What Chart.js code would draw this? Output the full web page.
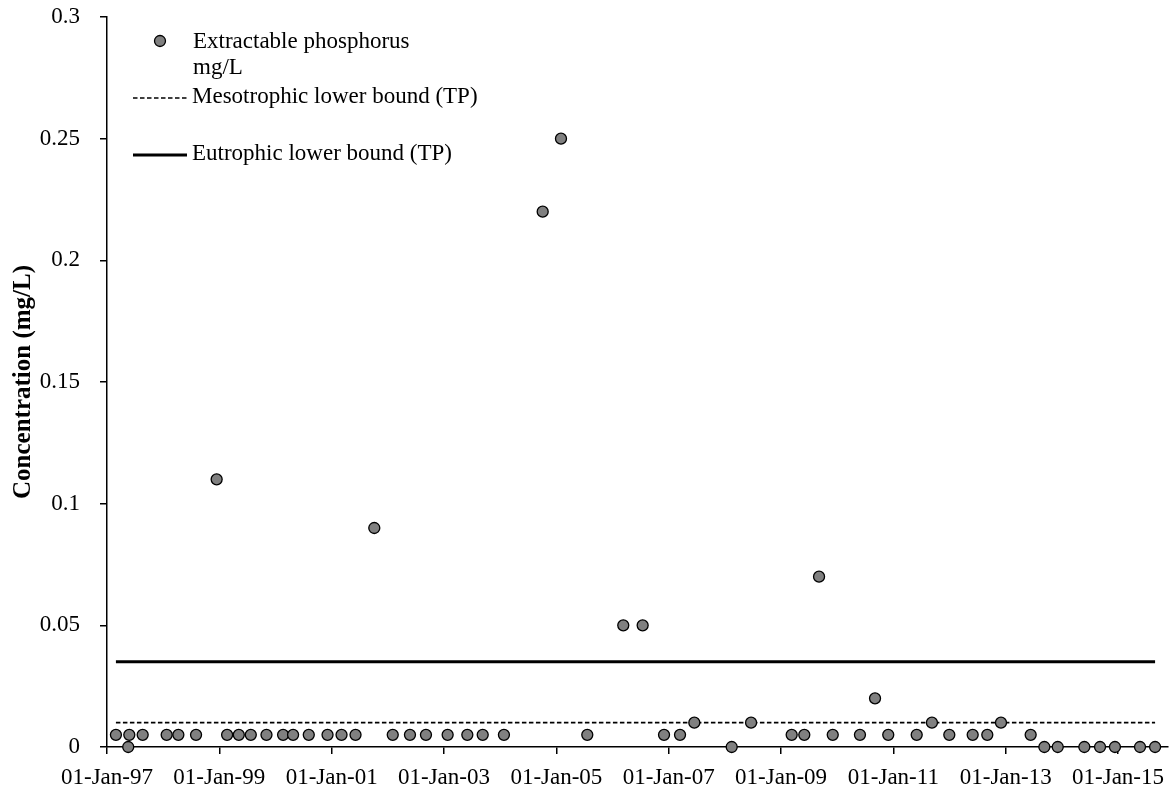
<!DOCTYPE html>
<html>
<head>
<meta charset="utf-8">
<title>Extractable phosphorus concentration</title>
<script src="https://cdn.jsdelivr.net/npm/chart.js@4.4.1/dist/chart.umd.min.js"></script>
<style>
  html, body { margin: 0; padding: 0; background: #fff; }
  #wrap { width: 1169px; height: 791px; }
</style>
</head>
<body>
<div id="wrap"><canvas id="chart" width="1169" height="791"></canvas></div>
<script>
// Sampling dates and measured extractable phosphorus (mg/L)
const sampleDates = [
  '1997-02-28', '1997-05-19', '1997-05-26', '1997-08-21', '1998-01-24', '1998-04-10',
  '1998-08-03', '1998-12-15', '1999-02-21', '1999-05-08', '1999-07-25', '1999-11-04',
  '2000-02-20', '2000-04-25', '2000-08-05', '2000-12-05', '2001-03-06', '2001-06-05',
  '2001-10-05', '2002-02-02', '2002-05-25', '2002-09-06', '2003-01-25', '2003-06-02',
  '2003-09-10', '2004-01-26', '2004-10-04', '2005-01-31', '2005-07-21', '2006-03-12',
  '2006-07-16', '2006-12-02', '2007-03-16', '2007-06-17', '2008-02-15', '2008-06-20',
  '2009-03-11', '2009-06-01', '2009-09-05', '2009-12-03', '2010-05-29', '2010-09-04',
  '2010-11-29', '2011-06-02', '2011-09-09', '2011-12-31', '2012-05-31', '2012-09-03',
  '2012-12-01', '2013-06-12', '2013-09-09', '2013-12-05', '2014-05-27', '2014-09-06',
  '2014-12-12', '2015-05-24', '2015-08-30'
];
const phosphorus = [
  0.005, 0, 0.005, 0.005, 0.005, 0.005,
  0.005, 0.11, 0.005, 0.005, 0.005, 0.005,
  0.005, 0.005, 0.005, 0.005, 0.005, 0.005,
  0.09, 0.005, 0.005, 0.005, 0.005, 0.005,
  0.005, 0.005, 0.22, 0.25, 0.005, 0.05,
  0.05, 0.005, 0.005, 0.01, 0, 0.01,
  0.005, 0.005, 0.07, 0.005, 0.005, 0.02,
  0.005, 0.005, 0.01, 0.005, 0.005, 0.005,
  0.01, 0.005, 0, 0, 0, 0,
  0, 0, 0
];

// Trophic state thresholds for total phosphorus (mg/L)
const mesotrophicBound = 0.01;
const eutrophicBound = 0.035;

// Axis ticks and range
const xTickDates = ['1997-01-01', '1999-01-01', '2001-01-01', '2003-01-01', '2005-01-01',
                    '2007-01-01', '2009-01-01', '2011-01-01', '2013-01-01', '2015-01-01'];
const yTicks = [0, 0.05, 0.1, 0.15, 0.2, 0.25, 0.3];
const xRange = ['1997-01-01', '2015-11-22'];

const seriesLabels = ['Extractable phosphorus\nmg/L', 'Mesotrophic lower bound (TP)', 'Eutrophic lower bound (TP)'];
const yTitle = 'Concentration (mg/L)';

const MONTHS = ['Jan','Feb','Mar','Apr','May','Jun','Jul','Aug','Sep','Oct','Nov','Dec'];
const toMs = s => Date.parse(s);
function fmtDate(ms) {
  const d = new Date(ms);
  return String(d.getUTCDate()).padStart(2, '0') + '-' + MONTHS[d.getUTCMonth()] + '-' +
         String(d.getUTCFullYear()).slice(2);
}

const FONT = "'Liberation Serif', 'Times New Roman', serif";
Chart.defaults.font.family = FONT;
Chart.defaults.font.size = 23;
Chart.defaults.color = '#000';

const points = sampleDates.map((d, i) => ({ x: toMs(d), y: phosphorus[i] }));
const firstX = toMs(sampleDates[0]);
const lastX = toMs(sampleDates[sampleDates.length - 1]);

// Legend drawn in the upper-left corner of the plot area
const cornerLegend = {
  id: 'cornerLegend',
  afterDraw(chart) {
    const ctx = chart.ctx;
    const a = chart.chartArea;
    const ds = chart.data.datasets;
    const x0 = a.left;
    const y0 = a.top;
    ctx.save();
    ctx.font = '23px ' + FONT;
    ctx.textAlign = 'left';
    ctx.textBaseline = 'alphabetic';

    // marker entry
    const p = ds[0];
    ctx.beginPath();
    ctx.arc(x0 + 53, y0 + 24, p.pointRadius, 0, Math.PI * 2);
    ctx.fillStyle = p.backgroundColor;
    ctx.fill();
    ctx.lineWidth = p.borderWidth;
    ctx.strokeStyle = p.borderColor;
    ctx.stroke();
    ctx.fillStyle = '#000';
    p.label.split('\n').forEach((line, i) => ctx.fillText(line, x0 + 86, y0 + 31 + i * 26));

    // line entries
    const entries = [[ds[1], y0 + 81, y0 + 86], [ds[2], y0 + 138, y0 + 143]];
    entries.forEach(([d, ly, ty]) => {
      ctx.beginPath();
      ctx.setLineDash(d.borderDash || []);
      ctx.lineWidth = d.borderWidth;
      ctx.strokeStyle = d.borderColor;
      ctx.moveTo(x0 + 26, ly);
      ctx.lineTo(x0 + 80, ly);
      ctx.stroke();
      ctx.setLineDash([]);
      ctx.fillText(d.label, x0 + 85, ty);
    });
    ctx.restore();
  }
};

new Chart(document.getElementById('chart'), {
  type: 'scatter',
  data: {
    datasets: [
      {
        label: seriesLabels[0],
        data: points,
        pointRadius: 5.5,
        pointHoverRadius: 5.5,
        backgroundColor: '#808080',
        borderColor: '#000',
        borderWidth: 1.3,
        showLine: false,
        clip: false
      },
      {
        label: seriesLabels[1],
        data: [{ x: firstX, y: mesotrophicBound }, { x: lastX, y: mesotrophicBound }],
        showLine: true,
        pointRadius: 0,
        borderColor: '#000',
        borderWidth: 1.6,
        borderDash: [4.5, 2.5],
        backgroundColor: '#000'
      },
      {
        label: seriesLabels[2],
        data: [{ x: firstX, y: eutrophicBound }, { x: lastX, y: eutrophicBound }],
        showLine: true,
        pointRadius: 0,
        borderColor: '#000',
        borderWidth: 3,
        backgroundColor: '#000'
      }
    ]
  },
  options: {
    responsive: false,
    animation: false,
    events: [],
    layout: { autoPadding: false, padding: { top: 17, right: 1, left: 0, bottom: 0 } },
    plugins: {
      legend: { display: false },
      tooltip: { enabled: false }
    },
    scales: {
      x: {
        type: 'linear',
        min: toMs(xRange[0]),
        max: toMs(xRange[1]),
        afterBuildTicks: s => { s.ticks = xTickDates.map(d => ({ value: toMs(d) })); },
        afterFit: s => { s.height = 44; s.paddingLeft = 0; s.paddingRight = 0; },
        ticks: {
          autoSkip: false,
          maxRotation: 0,
          padding: 10,
          callback: v => fmtDate(v)
        },
        grid: {
          display: true,
          drawOnChartArea: false,
          drawTicks: true,
          tickLength: 7,
          color: '#000',
          lineWidth: 1.5
        },
        border: { display: true, color: '#000', width: 1.5 }
      },
      y: {
        min: 0,
        max: 0.3,
        afterBuildTicks: s => { s.ticks = yTicks.map(v => ({ value: v })); },
        afterFit: s => { s.width = 107; s.paddingTop = 0; s.paddingBottom = 0; },
        ticks: {
          padding: 20,
          callback: v => String(v)
        },
        grid: {
          display: true,
          drawOnChartArea: false,
          drawTicks: true,
          tickLength: 7,
          color: '#000',
          lineWidth: 1.5
        },
        border: { display: true, color: '#000', width: 1.5 },
        title: {
          display: true,
          text: yTitle,
          font: { size: 25, weight: 'bold' },
          padding: { top: 9, bottom: 0 }
        }
      }
    }
  },
  plugins: [cornerLegend]
});
</script>
</body>
</html>
